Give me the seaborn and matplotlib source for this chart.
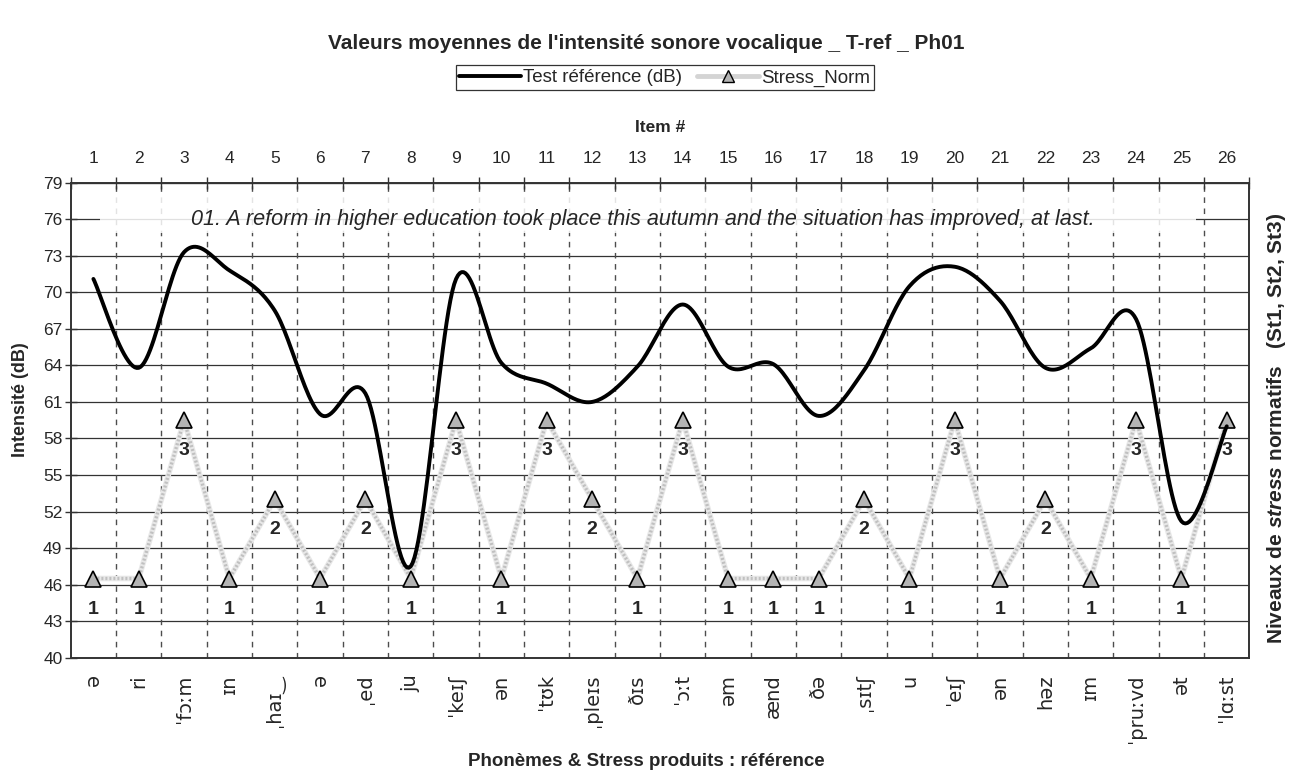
import numpy as np
import pandas as pd
import matplotlib
matplotlib.use("Agg")
import matplotlib.pyplot as plt
import seaborn as sns
from matplotlib.lines import Line2D
from matplotlib.patches import Rectangle

items = [str(i) for i in range(1, 27)]
phonemes = ["ə", "ri", "ˈfɔːm", "ɪn", "ˌhaɪ‿", "ə", "ˌed", "ju", "ˈkeɪʃ", "ən",
            "ˈtʊk", "ˌpleɪs", "ðɪs", "ˈɔːt", "əm", "ænd", "ðə", "ˌsɪtʃ", "u",
            "ˈeɪʃ", "ən", "həz", "ɪm", "ˈpruːvd", "ət", "ˈlɑːst"]
intensity = [71.1, 63.8, 73.3, 71.8, 68.5, 60.0, 61.7, 47.5, 71.1, 64.2,
             62.5, 61.0, 63.9, 69.0, 63.9, 64.1, 59.85, 63.6, 70.5, 72.1,
             69.3, 63.8, 65.4, 67.8, 51.2, 59.0]
stress = [1, 1, 3, 1, 2, 1, 2, 1, 3, 1, 3, 2, 1, 3, 1, 1, 1, 2, 1, 3, 1, 2, 1, 3, 1, 3]
sentence = "01. A reform in higher education took place this autumn and the situation has improved, at last."

df = pd.DataFrame({"item": items, "phon": phonemes, "db": intensity, "stress": stress})
df["x"] = np.arange(len(df)) + 0.5


def smooth(xs, ys, n=24):
    # catmull-rom, close to excel's "smoothed line"
    xs = np.asarray(xs, float)
    ys = np.asarray(ys, float)
    px = np.r_[xs[0], xs, xs[-1]]
    py = np.r_[ys[0], ys, ys[-1]]
    outx, outy = [], []
    for i in range(1, len(xs)):
        t = np.linspace(0, 1, n, endpoint=False)
        for p, out in ((px, outx), (py, outy)):
            p0, p1, p2, p3 = p[i - 1], p[i], p[i + 1], p[i + 2]
            m1 = (p2 - p0) / 2
            m2 = (p3 - p1) / 2
            h00 = 2 * t**3 - 3 * t**2 + 1
            h10 = t**3 - 2 * t**2 + t
            h01 = -2 * t**3 + 3 * t**2
            h11 = t**3 - t**2
            out.extend(h00 * p1 + h10 * m1 + h01 * p2 + h11 * m2)
    outx.append(xs[-1])
    outy.append(ys[-1])
    return np.array(outx), np.array(outy)


sns.set_style("white")
plt.rcParams["font.family"] = ["Liberation Sans", "DejaVu Sans"]
plt.rcParams["mathtext.fontset"] = "custom"
plt.rcParams["mathtext.it"] = "Liberation Sans:italic:bold"
plt.rcParams["mathtext.rm"] = "Liberation Sans:bold"

fig = plt.figure(figsize=(12.93, 7.71), dpi=100)
ax = fig.add_axes([0.0547, 0.147, 0.9116, 0.616])
ax2 = ax.twinx()

n = len(df)

# grid
for v in np.arange(40, 80, 3):
    ax.axhline(v, color="0.2", lw=0.9, zorder=0)
for b in range(1, n):
    ax.axvline(b, color="0.3", lw=1.0, dashes=(4, 4), zorder=0)

# sentence box
ax.add_patch(Rectangle((0.025, 0.894), 0.93, 0.076, transform=ax.transAxes,
                       facecolor="white", edgecolor="none", alpha=0.85, zorder=1))
ax.text(0.4855, 76, sentence, transform=ax.get_yaxis_transform(), ha="center", va="center",
        fontsize=15.6, style="italic", zorder=2)

# stress line (right scale 0-6)
sns.lineplot(data=df, x="x", y="stress", ax=ax2, color="#e8e8e8", lw=4.0, zorder=3)
sns.lineplot(data=df, x="x", y="stress", ax=ax2, color="#c0c0c0", lw=2.4, dashes=(0.6, 0.6), zorder=3)
ax2.plot(df["x"], df["stress"], ls="none", marker="^", ms=11, mfc="#b4b4b4",
         mec="black", mew=1.2, zorder=4)
for xv, sv in zip(df["x"], df["stress"]):
    ax2.annotate(str(sv), (xv, sv), xytext=(0, -22), textcoords="offset points",
                 ha="center", va="center", fontsize=14, fontweight="bold")

# intensity curve, on top of the stress line but in dB units
sx, sy = smooth(df["x"], df["db"])
sns.lineplot(x=sx, y=sy, ax=ax2, color="black", lw=2.8, sort=False, estimator=None,
             zorder=6, transform=ax.transData)

ax.set_xlim(0, n)
ax.set_ylim(40, 79)
ax2.set_xlim(0, n)
ax2.set_ylim(0, 6)
ax2.set_yticks([])
ax2.set_ylabel("")
ax2.set_xlabel("")

# axes, ticks
ax.set_yticks(np.arange(40, 80, 3))
ax.tick_params(axis="y", labelsize=12.5, direction="inout", length=8, width=1, color="0.2", pad=2)
ax.set_xticks(range(0, n + 1))
ax.set_xticklabels([])
ax.set_xticks(df["x"], minor=True)
ax.set_xticklabels(df["phon"], minor=True, rotation=90, fontsize=14,
                   family=["DejaVu Sans"])
ax.tick_params(axis="x", which="major", direction="inout", length=8, width=1, color="0.2")
ax.tick_params(axis="x", which="minor", length=0, pad=12)
ax.set_xlabel("")
ax.set_ylabel("Intensité (dB)", fontsize=13, fontweight="bold")
ax.yaxis.set_label_coords(-0.035, 0.543)

top = ax.secondary_xaxis("top")
top.set_xticks(range(0, n + 1))
top.set_xticklabels([])
top.set_xticks(df["x"], minor=True)
top.set_xticklabels(df["item"], minor=True, fontsize=12.5)
top.tick_params(which="major", direction="inout", length=8, width=1, color="0.2")
top.tick_params(which="minor", length=0, pad=12)
top.set_xlabel("Item #", fontsize=12.5, fontweight="bold", labelpad=14)

for a in (ax, ax2):
    for s in a.spines.values():
        s.set_color("0.2")
        s.set_linewidth(1.2)

fig.text(0.987, 0.445, r"Niveaux de $stress$ normatifs   (St1, St2, St3)", rotation=90,
         ha="center", va="center", fontsize=15, fontweight="bold")
fig.text(0.5, 0.0117, "Phonèmes & Stress produits : référence", ha="center", va="center",
         fontsize=13.5, fontweight="bold")
fig.text(0.5, 0.944, "Valeurs moyennes de l'intensité sonore vocalique _ T-ref _ Ph01",
         ha="center", va="center", fontsize=15, fontweight="bold")

handles = [Line2D([], [], color="black", lw=2.8),
           Line2D([], [], color="#d4d4d4", lw=3.5, marker="^", ms=9, mfc="#b4b4b4", mec="black")]
leg = fig.legend(handles, ["Test référence (dB)", "Stress_Norm"], loc="center",
                 bbox_to_anchor=(0.514, 0.899), ncol=2, fontsize=13.5, frameon=True,
                 fancybox=False, handlelength=3.3, handletextpad=0.1, columnspacing=0.8,
                 borderpad=0.2)
leg.get_frame().set_edgecolor("black")
leg.get_frame().set_linewidth(0.9)

fig.savefig("out.png", dpi=100)
